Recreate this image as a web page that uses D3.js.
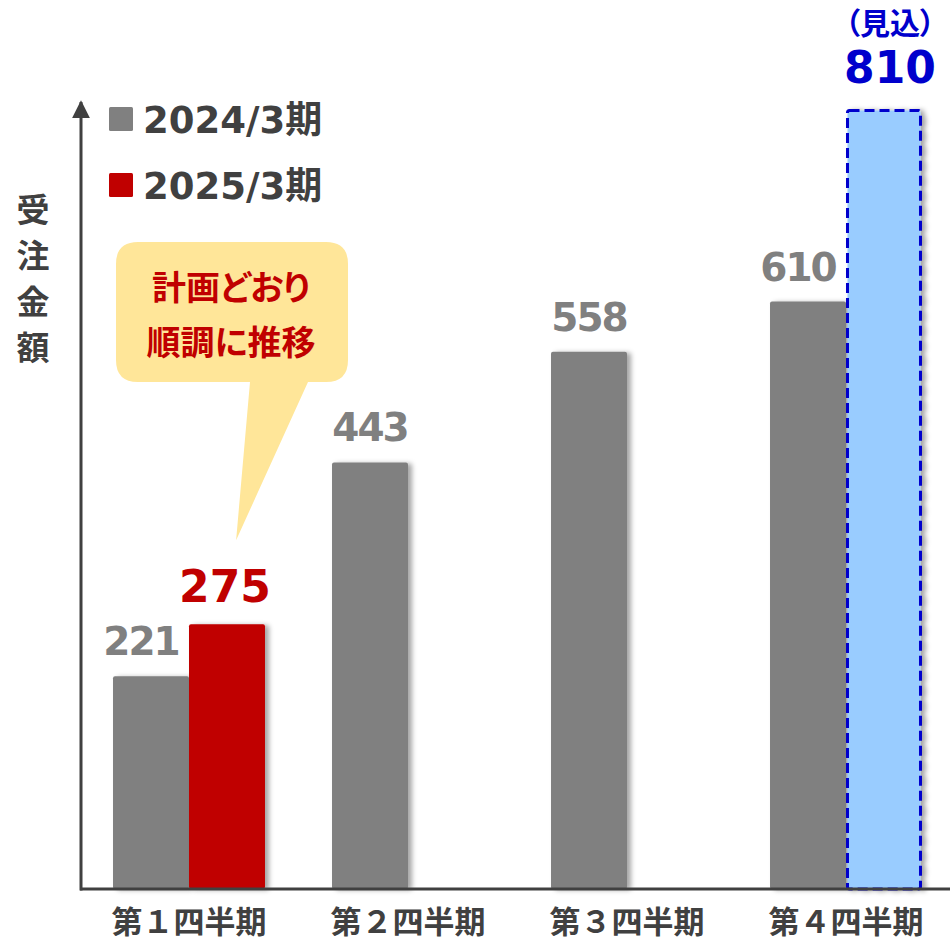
<!DOCTYPE html>
<html>
<head>
<meta charset="utf-8">
<script src="https://cdn.jsdelivr.net/npm/d3@7"></script>
<style>
  html, body { margin: 0; padding: 0; background: #ffffff; }
  svg { display: block; }
</style>
</head>
<body>
<svg id="chart" width="950" height="947"></svg>
<script>
// ---------- data ----------
const quarters = ["第１四半期", "第２四半期", "第３四半期", "第４四半期"];
const series = ["2024/3期", "2025/3期"];
const values2024 = [221, 443, 558, 610];
const values2025 = [275, null, null, 810];
const forecast2025 = [false, false, false, true];
const yAxisTitle = "受注金額";
const forecastTag = "（見込）";
const calloutLines = ["計画どおり", "順調に推移"];

// ---------- setup ----------
const svg = d3.select("#chart");
const baseY = 889, topY = 109;
const colGray = "#808080", colRed = "#C00000", colBlue = "#0000CC", colLight = "#99CCFF", colText = "#404040";
const jp = "'Noto Sans CJK JP', 'Noto Sans', sans-serif";
const num = "'DejaVu Sans', 'Noto Sans CJK JP', sans-serif";

const defs = svg.append("defs");
const f = defs.append("filter").attr("id", "shadow").attr("x", "-20%").attr("y", "-5%").attr("width", "150%").attr("height", "110%");
f.append("feDropShadow").attr("dx", 4).attr("dy", 1).attr("stdDeviation", 2.5)
  .attr("flood-color", "#000").attr("flood-opacity", 0.35);
defs.append("marker").attr("id", "arrow").attr("viewBox", "0 0 10 10")
  .attr("refX", 9).attr("refY", 5).attr("markerWidth", 6).attr("markerHeight", 6)
  .attr("markerUnits", "strokeWidth").attr("orient", "auto")
  .append("path").attr("d", "M0,0 L10,5 L0,10 Z").attr("fill", colText);

const y = d3.scaleLinear().domain([0, d3.max(values2025.concat(values2024))]).range([baseY, topY]);
const x0 = d3.scaleBand().domain(quarters).range([79.5, 955.5]);
const x1 = d3.scaleBand().domain(series).range([0, x0.bandwidth()]).paddingInner(0).paddingOuter(0.441);

const rows = quarters.map((q, i) => ({ q, i, v24: values2024[i], v25: values2025[i], fc: forecast2025[i] }));

// ---------- bars ----------
const gBars = svg.append("g");
gBars.selectAll("rect.b24").data(rows).join("rect")
  .attr("class", "b24")
  .attr("x", d => x0(d.q) + x1(series[0]))
  .attr("width", x1.bandwidth())
  .attr("y", d => y(d.v24))
  .attr("height", d => y(0) - y(d.v24))
  .attr("rx", 2)
  .attr("fill", colGray)
  .attr("filter", "url(#shadow)");

const r25 = rows.filter(d => d.v25 != null);
gBars.selectAll("rect.b25").data(r25).join("rect")
  .attr("class", "b25")
  .attr("x", d => x0(d.q) + x1(series[1]) + (d.fc ? 1.5 : 0))
  .attr("width", d => x1.bandwidth() - (d.fc ? 3 : 0))
  .attr("y", d => y(d.v25) + (d.fc ? 1.5 : 0))
  .attr("height", d => y(0) - y(d.v25) - (d.fc ? 1.5 : 0))
  .attr("rx", 2)
  .attr("fill", d => d.fc ? colLight : colRed)
  .attr("stroke", d => d.fc ? colBlue : "none")
  .attr("stroke-width", 3)
  .attr("stroke-dasharray", d => d.fc ? "10,5" : null)
  .attr("filter", "url(#shadow)");

// ---------- value labels ----------
svg.selectAll("text.l24").data(rows).join("text")
  .attr("class", "l24")
  .attr("x", d => x0(d.q) + x1(series[0]) + x1.bandwidth() / 2 + (d.v25 != null ? -10 : 0))
  .attr("y", d => y(d.v24) - 21)
  .attr("text-anchor", "middle")
  .attr("font-family", num).attr("font-weight", "bold").attr("font-size", 39)
  .attr("letter-spacing", -2)
  .attr("fill", colGray)
  .text(d => d.v24);

svg.selectAll("text.l25").data(r25).join("text")
  .attr("class", "l25")
  .attr("x", d => x0(d.q) + x1(series[1]) + x1.bandwidth() / 2 + (d.fc ? 6 : -2))
  .attr("y", d => y(d.v25) - (d.fc ? 26 : 22))
  .attr("text-anchor", "middle")
  .attr("font-family", num).attr("font-weight", "bold").attr("font-size", 44)
  .attr("fill", d => d.fc ? colBlue : colRed)
  .text(d => d.v25);

svg.selectAll("text.fc").data(r25.filter(d => d.fc)).join("text")
  .attr("class", "fc")
  .attr("x", d => x0(d.q) + x1(series[1]) + x1.bandwidth() / 2 + 6)
  .attr("y", d => y(d.v25) - 75)
  .attr("text-anchor", "middle")
  .attr("font-family", jp).attr("font-weight", "bold").attr("font-size", 30)
  .style("font-feature-settings", "'palt'")
  .attr("fill", colBlue)
  .text(forecastTag);

// ---------- axes ----------
const xAxis = d3.axisBottom(x0).tickSize(0).tickPadding(22);
const gx = svg.append("g").attr("transform", `translate(0,${baseY})`).call(xAxis);
gx.select(".domain").attr("stroke", colText).attr("stroke-width", 3).attr("d", `M80,0H950`);
gx.selectAll(".tick text")
  .attr("font-family", jp).attr("font-weight", "bold").attr("font-size", 31)
  .attr("fill", colText).attr("dy", "0.71em");

svg.append("line")
  .attr("x1", 81).attr("x2", 81)
  .attr("y1", baseY + 1.5).attr("y2", 102)
  .attr("stroke", colText).attr("stroke-width", 3)
  .attr("marker-end", "url(#arrow)");

// y axis title (vertical)
svg.append("text")
  .attr("font-family", jp).attr("font-weight", "bold").attr("font-size", 33)
  .attr("fill", colText).attr("text-anchor", "middle")
  .selectAll("tspan").data(Array.from(yAxisTitle)).join("tspan")
  .attr("x", 33).attr("y", (d, i) => 222 + i * 46)
  .text(d => d);

// ---------- legend ----------
const legendColors = [colGray, colRed];
const lg = svg.append("g").selectAll("g").data(series).join("g")
  .attr("transform", (d, i) => `translate(109,${107 + i * 66})`);
lg.append("rect").attr("width", 24).attr("height", 24).attr("rx", 1.5)
  .attr("fill", (d, i) => legendColors[i]);
lg.append("text").attr("x", 34).attr("y", 26)
  .attr("font-family", num).attr("font-weight", "bold").attr("font-size", 37)
  .attr("fill", colText)
  .text(d => d);

// ---------- callout ----------
const q1 = rows[0];
const tipX = x0(q1.q) + x1(series[1]) + x1.bandwidth() * 0.62;
const tipY = y(q1.v25) - 84;
const bx0 = 116, bx1 = 348, by0 = 242, by1 = 382, rr = 22;
const cp = d3.path();
cp.moveTo(bx0 + rr, by0);
cp.lineTo(bx1 - rr, by0);
cp.quadraticCurveTo(bx1, by0, bx1, by0 + rr);
cp.lineTo(bx1, by1 - rr);
cp.quadraticCurveTo(bx1, by1, bx1 - rr, by1);
cp.lineTo(308, by1);
cp.lineTo(tipX, tipY);
cp.lineTo(250, by1);
cp.lineTo(bx0 + rr, by1);
cp.quadraticCurveTo(bx0, by1, bx0, by1 - rr);
cp.lineTo(bx0, by0 + rr);
cp.quadraticCurveTo(bx0, by0, bx0 + rr, by0);
cp.closePath();
svg.append("path").attr("d", cp.toString()).attr("fill", "#FFE699");

svg.append("g").selectAll("text").data(calloutLines).join("text")
  .attr("x", 231).attr("y", (d, i) => 300 + i * 55)
  .attr("text-anchor", "middle")
  .attr("font-family", jp).attr("font-weight", "bold").attr("font-size", 34)
  .style("font-feature-settings", "'palt'")
  .attr("fill", colRed)
  .text(d => d);
</script>
</body>
</html>
